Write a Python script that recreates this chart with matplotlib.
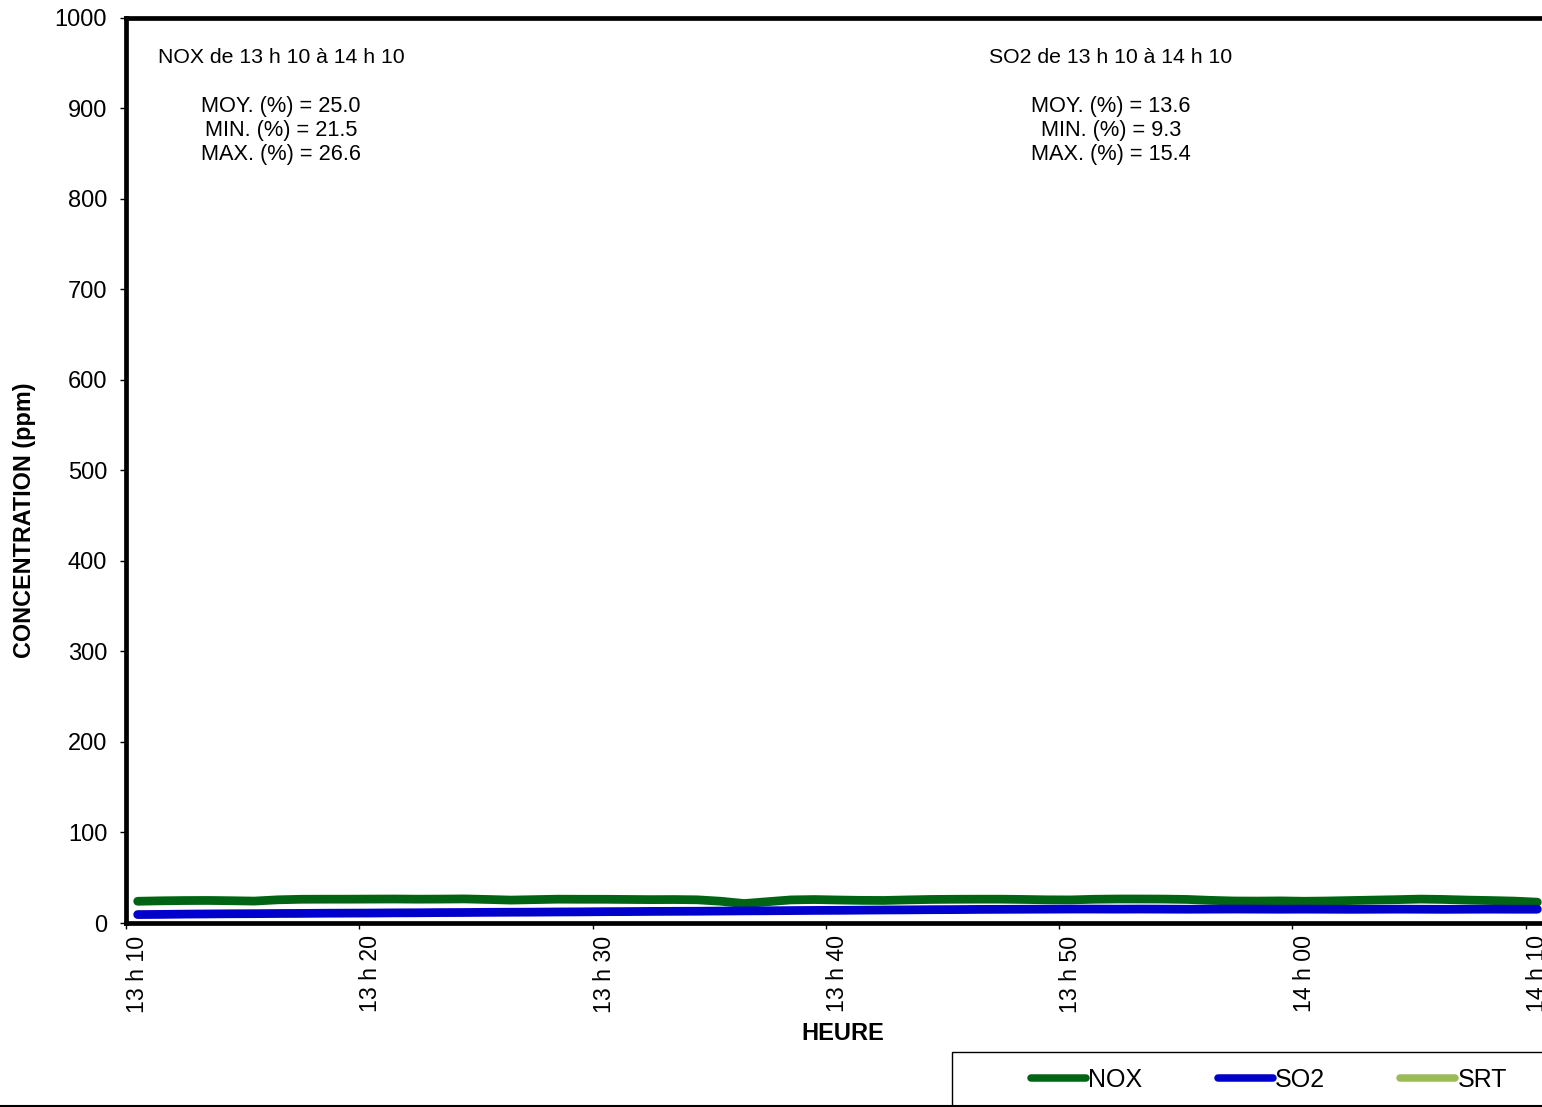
import matplotlib
matplotlib.use("Agg")
import numpy as np
import matplotlib.pyplot as plt
from matplotlib.patches import Rectangle
from matplotlib.lines import Line2D

plt.rcParams['font.family'] = ['Liberation Sans', 'DejaVu Sans']

# one reading per minute, 13 h 10 -> 14 h 10
nox = [24.0, 24.5, 24.8, 24.9, 24.6, 24.2, 25.6, 26.2, 26.3, 26.3,
       26.4, 26.5, 26.3, 26.4, 26.6, 26.0, 25.3, 25.8, 26.3, 26.2,
       26.2, 26.0, 25.8, 25.9, 25.6, 24.0, 21.5, 23.5, 25.5, 25.9,
       25.4, 25.0, 24.9, 25.5, 26.0, 26.2, 26.3, 26.3, 26.0, 25.6,
       25.5, 26.2, 26.5, 26.5, 26.4, 26.0, 25.0, 24.3, 24.2, 24.4,
       24.0, 24.3, 24.8, 25.3, 25.8, 26.4, 26.0, 25.3, 24.8, 24.2, 23.0]
so2 = [9.3, 9.5, 9.8, 10.0, 10.2, 10.3, 10.5, 10.6, 10.8, 10.9,
       11.0, 11.2, 11.3, 11.5, 11.6, 11.8, 11.9, 12.0, 12.2, 12.3,
       12.5, 12.6, 12.8, 12.9, 13.0, 13.2, 13.4, 13.5, 13.7, 13.9,
       14.0, 14.2, 14.4, 14.5, 14.7, 14.8, 15.0, 15.1, 15.2, 15.3,
       15.4, 15.4, 15.3, 15.4, 15.3, 15.2, 15.3, 15.4, 15.3, 15.2,
       15.3, 15.2, 15.1, 15.2, 15.3, 15.2, 15.1, 15.2, 15.3, 15.2, 15.2]
srt = []  # no SRT data in this period

time_labels = ["13 h 10", "13 h 20", "13 h 30", "13 h 40", "13 h 50", "14 h 00", "14 h 10"]
nox_stats = ["25.0", "21.5", "26.6"]
so2_stats = ["13.6", "9.3", "15.4"]

c_nox = "#006414"
c_so2 = "#0000CC"
c_srt = "#9BBB59"

W, H = 1542, 1107
fig = plt.figure(figsize=(W / 100, H / 100), dpi=100)
ax = fig.add_axes([126 / W, 1 - 923 / H, 1423 / W, 905.5 / H])

x = np.arange(len(nox)) + 0.5
ax.plot(x, nox, color=c_nox, lw=6.3, solid_capstyle='round', solid_joinstyle='round', label='NOX')
ax.plot(x, so2, color=c_so2, lw=6.3, solid_capstyle='round', solid_joinstyle='round', label='SO2')
ax.plot(np.arange(len(srt)), srt, color=c_srt, lw=6.3, solid_capstyle='round', label='SRT')

ax.set_xlim(0, len(nox))
ax.set_ylim(0, 1000)
ax.set_yticks(range(0, 1001, 100))
ax.tick_params(axis='y', direction='out', length=4.5, width=1, labelsize=17, pad=9)

# tick marks at category boundaries, labels centred on the category
major = np.arange(0, len(nox), 10)
ax.set_xticks(major)
ax.set_xticklabels([])
ax.set_xticks(major + 0.5, minor=True)
ax.set_xticklabels(time_labels, minor=True, rotation=90, fontsize=16.7)
ax.tick_params(axis='x', which='major', direction='out', length=4.5, width=1)
ax.tick_params(axis='x', which='minor', length=0, pad=9)

for s in ax.spines.values():
    s.set_linewidth(3.4)
    s.set_color('black')

ax.text(0.109, 0.956, "NOX de 13 h 10 à 14 h 10", transform=ax.transAxes,
        ha='center', va='center', fontsize=15.3)
ax.text(0.109, 0.875, "MOY. (%%) = %s\nMIN. (%%) = %s\nMAX. (%%) = %s" % tuple(nox_stats),
        transform=ax.transAxes, ha='center', va='center', fontsize=15.7, linespacing=1.2)
ax.text(0.692, 0.956, "SO2 de 13 h 10 à 14 h 10", transform=ax.transAxes,
        ha='center', va='center', fontsize=15.3)
ax.text(0.692, 0.875, "MOY. (%%) = %s\nMIN. (%%) = %s\nMAX. (%%) = %s" % tuple(so2_stats),
        transform=ax.transAxes, ha='center', va='center', fontsize=15.7, linespacing=1.2)

fig.text(25 / W, 1 - 520 / H, "CONCENTRATION (ppm)", rotation=90, ha='center', va='center',
         fontsize=16.8, fontweight='bold')
fig.text(843 / W, 1 - 1033 / H, "HEURE", ha='center', va='center', fontsize=17, fontweight='bold')

# legend box (runs off the right and bottom edge)
fig.patches.append(Rectangle((952 / W, 1 - 1112 / H), 620 / W, 60 / H, transform=fig.transFigure,
                             fill=False, edgecolor='black', lw=1))
fig.lines.append(Line2D([0, 1], [1 - 1105.5 / H, 1 - 1105.5 / H], transform=fig.transFigure,
                        color='black', lw=1.5))
handles = [Line2D([], [], color=c, lw=5.4, solid_capstyle='round') for c in (c_nox, c_so2, c_srt)]
fig.legend(handles, ['NOX', 'SO2', 'SRT'], loc='center left', bbox_to_anchor=(1031 / W, 1 - 1080 / H),
           ncol=3, frameon=False, fontsize=18, handlelength=2.2, handletextpad=0.1,
           columnspacing=3.0, borderpad=0, borderaxespad=0)

fig.savefig("out.png", dpi=100)
